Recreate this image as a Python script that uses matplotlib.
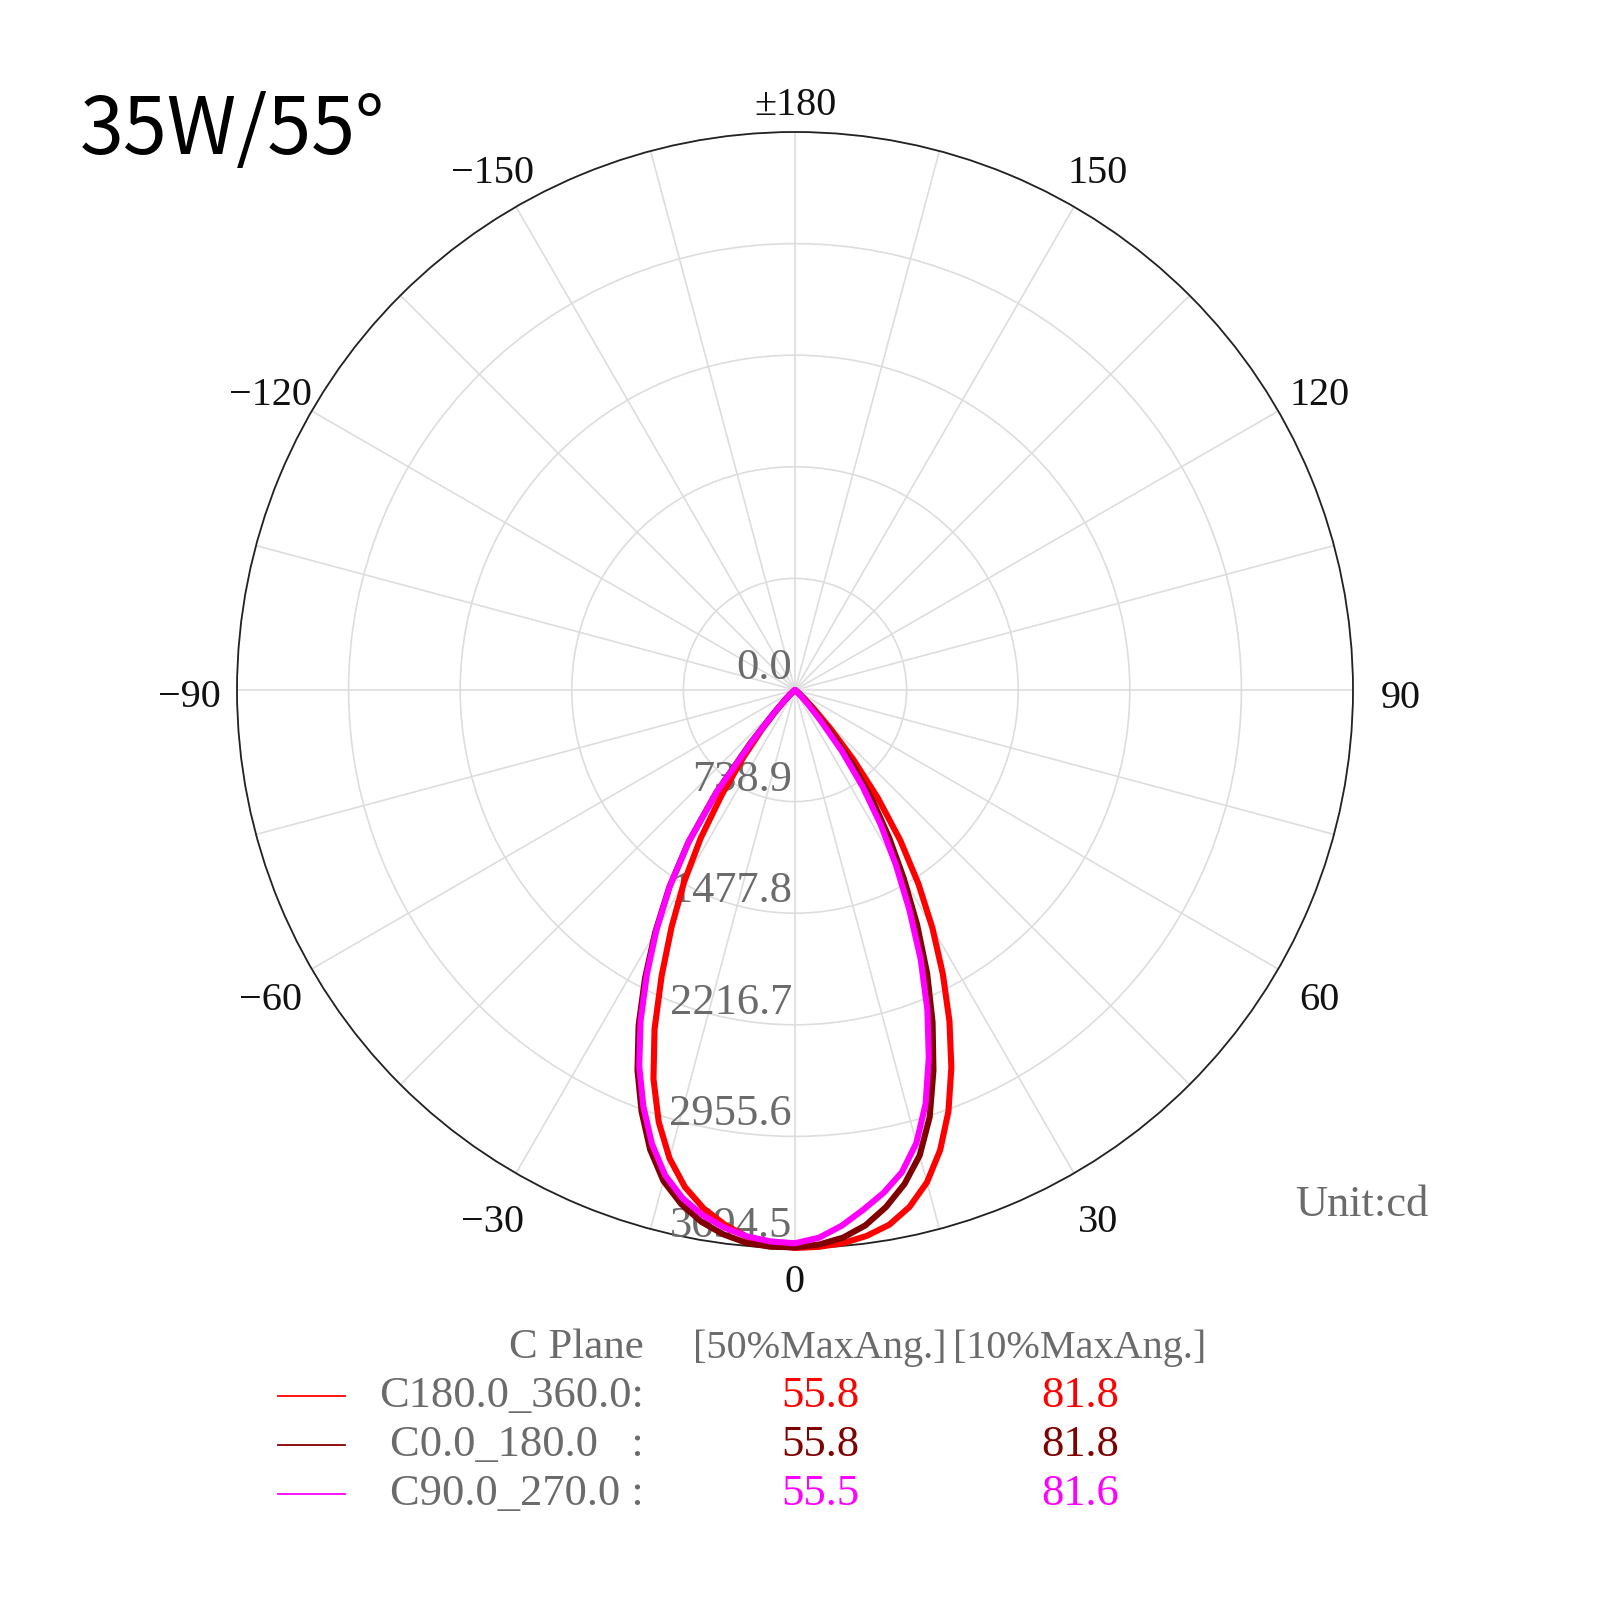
import numpy as np
import matplotlib.pyplot as plt
from matplotlib.lines import Line2D

plt.rcParams['font.family'] = ['Liberation Serif', 'DejaVu Serif']

# gamma angles (deg) and intensities (cd), per C-plane: negative side / positive side
gamma = np.arange(0, 60.1, 2.5)
c180_360_neg = [3694, 3678, 3635, 3570, 3485, 3370, 3210, 3000, 2740, 2430, 2090, 1770, 1470,
                1160, 840, 560, 340, 180, 85, 40, 20, 10, 5, 2, 0]
c180_360_pos = [3694, 3690, 3676, 3645, 3595, 3505, 3375, 3195, 2970, 2705, 2420, 2120, 1820,
                1520, 1215, 900, 600, 350, 180, 85, 40, 20, 10, 5, 0]
c0_180_neg = [3690, 3690, 3675, 3635, 3575, 3485, 3365, 3190, 2970, 2725, 2450, 2150, 1850,
              1550, 1230, 860, 460, 210, 95, 45, 22, 10, 5, 2, 0]
c0_180_pos = [3690, 3675, 3640, 3575, 3475, 3350, 3190, 2965, 2680, 2380, 2070, 1750, 1440,
              1160, 900, 645, 390, 200, 90, 45, 20, 10, 5, 2, 0]
c90_270_neg = [3663, 3655, 3632, 3590, 3530, 3445, 3325, 3150, 2935, 2695, 2420, 2125, 1835,
               1545, 1230, 850, 430, 200, 90, 45, 22, 10, 5, 2, 0]
c90_270_pos = [3663, 3630, 3560, 3470, 3380, 3270, 3105, 2875, 2590, 2290, 1970, 1640, 1335,
               1055, 780, 510, 260, 125, 60, 30, 15, 8, 4, 2, 0]

ring_labels = ["0.0", "738.9", "1477.8", "2216.7", "2955.6", "3694.5"]
angle_ticks = [0, 30, 60, 90, 120, 150, 180, -150, -120, -90, -60, -30]
angle_labels = ["0", "30", "60", "90", "120", "150", "\u00b1180",
                "\u2212150", "\u2212120", "\u221290", "\u221260", "\u221230"]

plane_names = ["C180.0_360.0:", "C0.0_180.0   :", "C90.0_270.0 :"]
beam50 = ["55.8", "55.8", "55.5"]
beam10 = ["81.8", "81.8", "81.6"]
colors = ["#ff0000", "#800000", "#ff00ff"]

GRAY = "#6b6b6b"
ring_values = [float(s) for s in ring_labels]
r_max = ring_values[-1]

fig = plt.figure(figsize=(16, 16), dpi=100)
ax = fig.add_axes([0.148125, 0.22, 0.6975, 0.6975], projection='polar')
ax.set_theta_zero_location('S')
ax.set_theta_direction(1)
ax.set_ylim(0, r_max)
ax.set_thetagrids(np.arange(0, 360, 15), labels=[])
ax.set_rgrids(ring_values[1:], labels=[])
ax.grid(color='#dddddd', lw=1.2)
ax.tick_params(length=0)
ax.spines['polar'].set_color('#222222')
ax.spines['polar'].set_linewidth(1.3)

planes = [(c180_360_neg, c180_360_pos), (c0_180_neg, c0_180_pos), (c90_270_neg, c90_270_pos)]
for (neg, pos), col in zip(planes, colors):
    th = np.deg2rad(np.concatenate([-gamma[::-1], gamma[1:]]))
    r = np.concatenate([np.array(neg)[::-1], np.array(pos)[1:]])
    ax.plot(th, r, color=col, lw=4.4, zorder=5, clip_on=False,
            solid_joinstyle='round', solid_capstyle='round')

# radial value labels along the 0 direction
for s, v in zip(ring_labels, ring_values):
    ax.annotate(s, xy=(0, v), xytext=(-3, 11), textcoords='offset pixels',
                ha='right', va='baseline', fontsize=32, color=GRAY, zorder=3)

# angle labels
for a, s in zip(angle_ticks, angle_labels):
    k = 1.086
    if a == 0:
        k = 1.048
    elif a == 180:
        k = 1.061
    ax.annotate(s, xy=(np.deg2rad(a), k * r_max), xytext=(0, -8),
                textcoords='offset pixels', ha='center', va='center',
                fontsize=29, color='#111111', annotation_clip=False)

fig.text(0.05, 0.904, "35W/55\u00b0", fontsize=57, va='baseline', ha='left',
         family=['Noto Sans CJK SC', 'DejaVu Sans'], color='black')

fig.text(0.851, 0.247, "Unit:cd", fontsize=32, color=GRAY, ha='center', va='center')

# legend table
head_y = 0.1575
fig.text(0.4025, head_y, "C Plane", fontsize=31, color=GRAY, ha='right', va='center')
fig.text(0.5125, head_y, "[50%MaxAng.]", fontsize=29, color=GRAY, ha='center', va='center')
fig.text(0.675, head_y, "[10%MaxAng.]", fontsize=29, color=GRAY, ha='center', va='center')
row_y = [0.1275, 0.097, 0.0665]
for y, name, b50, b10, col in zip(row_y, plane_names, beam50, beam10, colors):
    fig.add_artist(Line2D([0.174, 0.2156], [y, y], transform=fig.transFigure,
                          color=col, lw=1.3))
    fig.text(0.4025, y, name, fontsize=32, color=GRAY, ha='right', va='center')
    fig.text(0.5125, y, b50, fontsize=32, color=col, ha='center', va='center')
    fig.text(0.675, y, b10, fontsize=32, color=col, ha='center', va='center')

fig.savefig("out.png", dpi=100, facecolor='white')
